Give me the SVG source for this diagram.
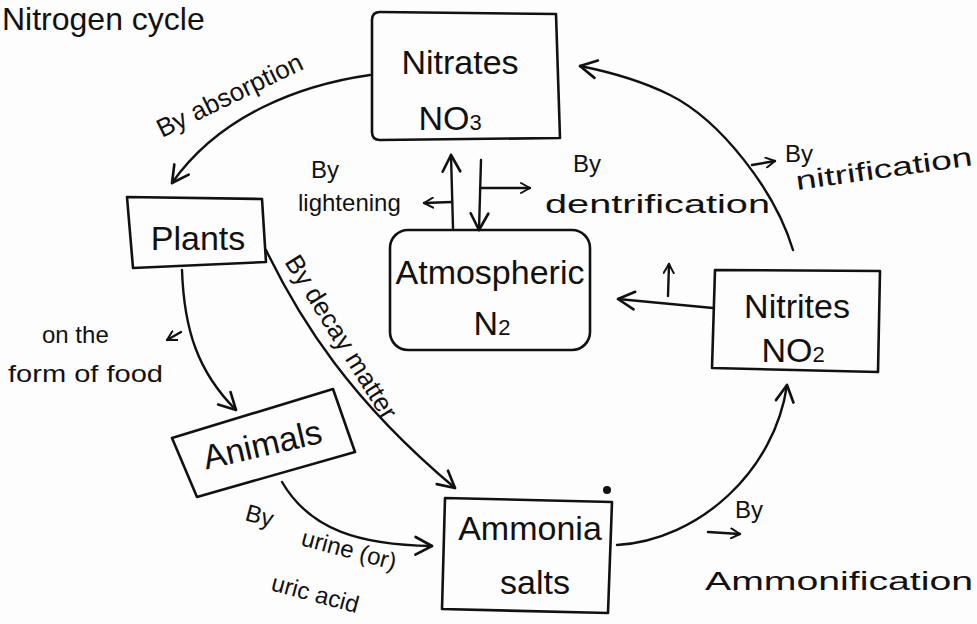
<svg xmlns="http://www.w3.org/2000/svg" width="977" height="624" viewBox="0 0 977 624">
  <defs>
    <marker id="chev" viewBox="0 0 12 12" refX="10" refY="6" markerWidth="12" markerHeight="12" markerUnits="userSpaceOnUse" orient="auto">
      <path d="M1,1 L10,6 L1,11" fill="none" stroke="#111" stroke-width="2" stroke-linecap="round" stroke-linejoin="round"/>
    </marker>
    <marker id="chevL" viewBox="0 0 20 20" refX="17" refY="10" markerWidth="22" markerHeight="22" markerUnits="userSpaceOnUse" orient="auto">
      <path d="M2,2 L17,10 L2,18" fill="none" stroke="#111" stroke-width="2.4" stroke-linecap="round" stroke-linejoin="round"/>
    </marker>
    <style>
      text { font-family: "Liberation Sans", "DejaVu Sans", sans-serif; fill: #111; }
      .box { fill: none; stroke: #111; stroke-width: 2.6; stroke-linejoin: round; }
      .edge { fill: none; stroke: #111; stroke-width: 2.4; stroke-linecap: round; }
      .node { font-size: 34px; text-anchor: middle; }
      .lbl { font-size: 26px; }
      .sm { font-size: 24px; }
    </style>
  </defs>

  <rect width="977" height="624" fill="#fdfdfd"/>

  <!-- heading -->
  <text x="2" y="30" font-size="32">Nitrogen cycle</text>

  <!-- nodes -->
  <g id="nitrates">
    <path class="box" d="M372,20 Q372,12 380,12 L556,14 L560,138 L380,140 Q372,140 372,132 Z"/>
    <text class="node" x="460" y="74" font-size="38">Nitrates</text>
    <text class="node" x="450" y="130" font-size="28">NO<tspan font-size="22">3</tspan></text>
  </g>

  <g id="plants">
    <path class="box" d="M127,197 L262,199 L266,262 L133,268 Z"/>
    <text class="node" x="198" y="250">Plants</text>
  </g>

  <g id="atmospheric">
    <rect class="box" x="390" y="230" width="200" height="120" rx="18"/>
    <text class="node" x="490" y="284" font-size="28">Atmospheric</text>
    <text class="node" x="492" y="335" font-size="28">N<tspan font-size="22">2</tspan></text>
  </g>

  <g id="nitrites">
    <path class="box" d="M715,270 L880,271 L878,372 L712,368 Z"/>
    <text class="node" x="797" y="318" font-size="30">Nitrites</text>
    <text class="node" x="793" y="362" font-size="28">NO<tspan font-size="22">2</tspan></text>
  </g>

  <g id="animals">
    <path class="box" d="M172,438 L333,389 L355,452 L197,497 Z"/>
    <text class="node" x="265" y="456" font-size="30" transform="rotate(-13 265 456)">Animals</text>
  </g>

  <g id="ammonia">
    <path class="box" d="M445,498 L612,502 L608,613 L442,609 Z"/>
    <text class="node" x="530" y="540" font-size="30">Ammonia</text>
    <text class="node" x="535" y="594" font-size="30">salts</text>
    <circle cx="607" cy="490" r="4" fill="#111"/>
  </g>

  <!-- connectors and their labels -->
  <g id="connectors">
    <!-- Nitrates -> Plants : by absorption -->
    <path class="edge" d="M370,75 C300,85 220,115 172,183" marker-end="url(#chevL)"/>
    <text class="lbl" transform="translate(162,138) rotate(-26)">By absorption</text>

    <!-- Nitrates <-> Atmospheric N2 -->
    <path class="edge" d="M453,228 L451,155" marker-end="url(#chevL)"/>
    <path class="edge" d="M452,202 L424,203" marker-end="url(#chev)"/>
    <path class="edge" d="M481,160 L479,230" marker-end="url(#chevL)"/>
    <path class="edge" d="M480,188 L530,188" marker-end="url(#chev)"/>
    <text class="sm" x="311" y="178">By</text>
    <text class="sm" x="298" y="211">lightening</text>
    <text class="sm" x="573" y="172">By</text>
    <text class="lbl" x="545" y="213" textLength="225" lengthAdjust="spacingAndGlyphs">dentrification</text>

    <!-- Nitrites -> Nitrates : by nitrification -->
    <path class="edge" d="M793,250 C775,190 720,120 670,95 C640,80 610,72 580,66" marker-end="url(#chevL)"/>
    <path class="edge" d="M752,165 L775,161" marker-end="url(#chev)"/>
    <text class="sm" x="785" y="162">By</text>
    <text class="lbl" transform="translate(797,190) rotate(-8)" textLength="178" lengthAdjust="spacingAndGlyphs">nitrification</text>

    <!-- Nitrites -> Atmospheric N2 -->
    <path class="edge" d="M713,308 L618,299" marker-end="url(#chevL)"/>
    <path class="edge" d="M668,296 L669,264" marker-end="url(#chev)"/>

    <!-- Plants -> Animals : in the form of food -->
    <path class="edge" d="M182,270 C184,330 198,372 236,410" marker-end="url(#chevL)"/>
    <path class="edge" d="M181,332 L167,340" marker-end="url(#chev)"/>
    <text class="sm" x="42" y="343">on the</text>
    <text class="sm" x="8" y="382" textLength="155" lengthAdjust="spacingAndGlyphs">form of food</text>

    <!-- Plants -> Ammonia salts : by decay matter -->
    <path class="edge" d="M266,250 C300,320 350,400 455,488" marker-end="url(#chevL)"/>
    <text class="lbl" transform="translate(284,262) rotate(58)">By decay matter</text>

    <!-- Animals -> Ammonia salts : by urine (or) uric acid -->
    <path class="edge" d="M282,482 C310,530 360,545 432,546" marker-end="url(#chevL)"/>
    <text class="sm" transform="translate(244,520) rotate(15)">By</text>
    <text class="sm" transform="translate(300,545) rotate(15)">urine (or)</text>
    <text class="sm" transform="translate(270,590) rotate(15)">uric acid</text>

    <!-- Ammonia salts -> Nitrites : by ammonification -->
    <path class="edge" d="M617,545 C700,540 775,470 787,385" marker-end="url(#chevL)"/>
    <path class="edge" d="M708,532 L740,534" marker-end="url(#chev)"/>
    <text class="sm" x="735" y="518">By</text>
    <text class="lbl" x="705" y="590" textLength="268" lengthAdjust="spacingAndGlyphs">Ammonification</text>
  </g>
</svg>
